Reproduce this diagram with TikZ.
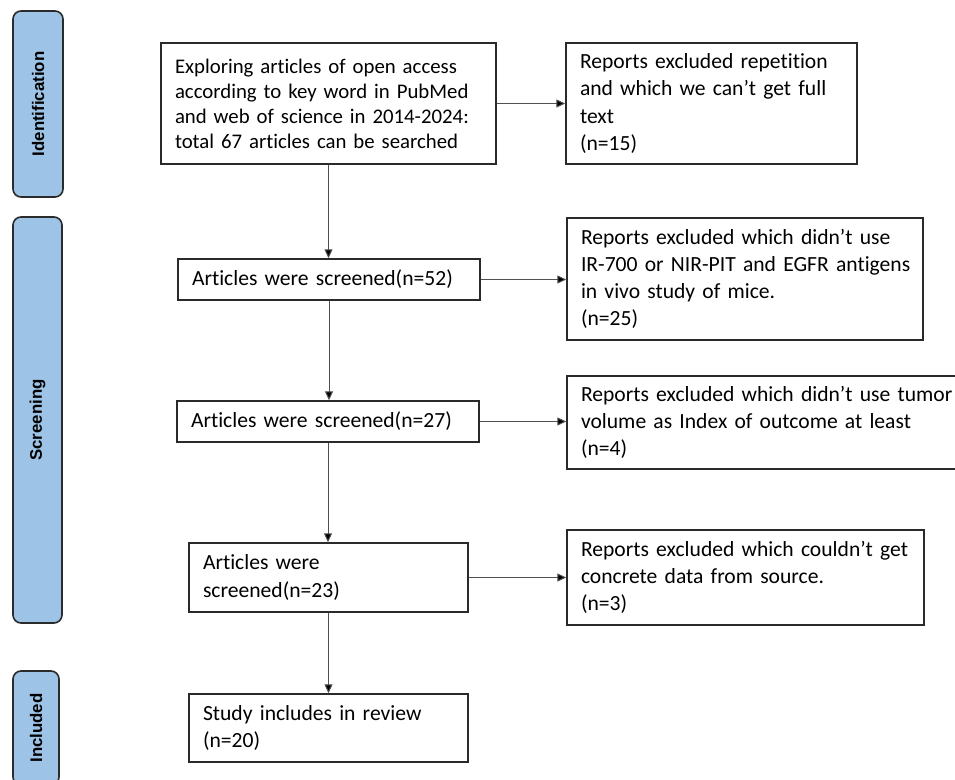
\documentclass[tikz,border=0pt]{standalone}
\usepackage{fontspec}
\setmainfont{Carlito}[Ligatures=NoCommon]
\newfontfamily\sidefont{Liberation Sans}
\usetikzlibrary{arrows.meta}
\def\px{0.75pt}
\definecolor{sidefill}{HTML}{9DC3E6}
\definecolor{sideline}{HTML}{2B2B2B}
\definecolor{boxline}{HTML}{2A2A2A}
\definecolor{arrline}{HTML}{505050}
\begin{document}
\begin{tikzpicture}[x=0.75pt,y=-0.75pt,
  box/.style={draw=boxline, line width=1.4*\px, inner xsep=14*\px, inner ysep=0pt,
    align=left, anchor=center, font=\fontsize{16.2}{20.3}\selectfont},
  bwh/.style 2 args={minimum width=#1*\px, minimum height=#2*\px, text width=(#1-28)*\px},
  side/.style={draw=sideline, fill=sidefill, line width=1.6*\px, rounded corners=8*\px,
    rotate=90, inner sep=0pt, font=\sidefont\bfseries\fontsize{12.6}{14}\selectfont},
  arr/.style={draw=arrline, line width=1*\px, -{Triangle[length=9*\px,width=8*\px,fill=black]}}]
\useasboundingbox (0,0) rectangle (955,780);
\fill[white] (0,0) rectangle (955,780);
\clip (0,0) rectangle (955,780);

% side bars
\node[side, minimum width=186*\px, minimum height=50*\px] (sid) at (38,104) {Identification};
\node[side, minimum width=406*\px, minimum height=49*\px] (ssc) at (37.5,420) {Screening};
\node[side, minimum width=114*\px, minimum height=46*\px] (sin) at (36,728) {Included};

% main column
\node[box, bwh={335}{121}, font=\fontsize{15.6}{18.8}\selectfont] (b1) at (328.5,103.5) {Exploring articles of open access\\according to key word in PubMed\\and web of science in 2014-2024:\\total 67 articles can be searched};
\node[box, bwh={302}{41}] (b2) at (329,279.5) {Articles were screened(n=52)};
\node[box, bwh={302}{41}] (b3) at (328,421.5) {Articles were screened(n=27)};
\node[box, bwh={279}{69}] (b4) at (328.5,577.5) {Articles were\\screened(n=23)};
\node[box, bwh={279}{68}] (b5) at (328.5,728) {Study includes in review\\(n=20)};

% exclusion column
\node[box, bwh={291}{121}] (r1) at (711.5,103.5) {Reports excluded repetition\\and which we can’t get full\\text\\(n=15)};
\node[box, bwh={356}{122}] (r2) at (745,279) {\mbox{Reports excluded which didn’t use}\\\mbox{IR-700 or NIR-PIT and EGFR antigens}\\\mbox{in vivo study of mice.}\\(n=25)};
\node[box, bwh={408}{93}] (r3) at (771,422.5) {\mbox{Reports excluded which didn’t use tumor}\\\mbox{volume as Index of outcome at least}\\(n=4)};
\node[box, bwh={357}{95}] (r4) at (745.5,577.5) {\mbox{Reports excluded which couldn’t get}\\\mbox{concrete data from source.}\\(n=3)};

% connectors
\draw[arr] (b1.south) -- (b1.south |- b2.north);
\draw[arr] (b2.south) -- (b2.south |- b3.north);
\draw[arr] (b3.south) -- (b3.south |- b4.north);
\draw[arr] (b4.south) -- (b4.south |- b5.north);
\draw[arr] (b1.east) -- (b1.east -| r1.west);
\draw[arr] (b2.east) -- (b2.east -| r2.west);
\draw[arr] (b3.east) -- (b3.east -| r3.west);
\draw[arr] (b4.east) -- (b4.east -| r4.west);
\end{tikzpicture}
\end{document}
